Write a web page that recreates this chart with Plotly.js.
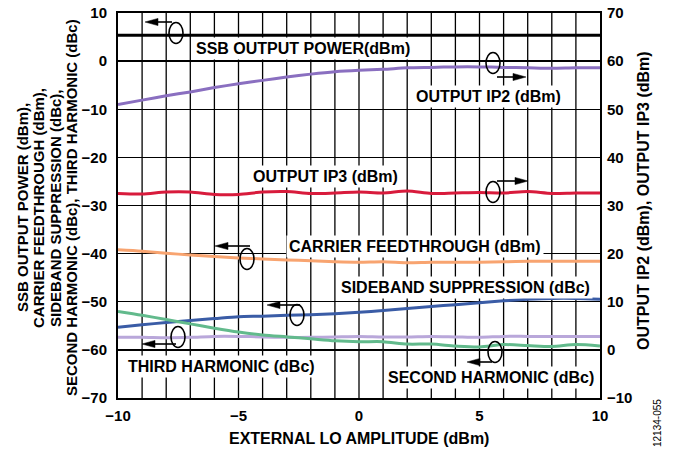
<!DOCTYPE html>
<html>
<head>
<meta charset="utf-8">
<script src="https://cdn.plot.ly/plotly-3.0.1.min.js"></script>
<style>html,body{margin:0;padding:0;background:#fff;}#chart{width:673px;height:452px;}</style>
</head>
<body>
<div id="chart"></div>
<script>
// ---- data ----
const loAmplitude = [-10,-9,-8,-7,-6,-5,-4,-3,-2,-1,0,1,2,3,4,5,6,7,8,9,10];
const ssbOutputPower = [5.4,5.4,5.4,5.4,5.4,5.4,5.4,5.4,5.4,5.4,5.4,5.4,5.4,5.4,5.4,5.4,5.4,5.4,5.4,5.4,5.4];
const outputIP2 = [51.0,51.9,52.8,53.6,54.5,55.3,56.0,56.7,57.3,57.8,58.1,58.3,58.6,58.7,58.8,58.8,58.7,58.6,58.5,58.6,58.6];
const outputIP3 = [32.5,32.4,32.8,32.8,32.3,32.3,32.8,32.9,32.5,32.6,32.8,32.6,33.0,32.5,32.6,32.7,32.6,32.9,32.5,32.6,32.6];
const carrierFeedthrough = [-39.2,-39.5,-39.9,-40.3,-40.6,-40.9,-41.1,-41.3,-41.5,-41.7,-41.8,-41.7,-41.9,-41.8,-41.8,-41.8,-41.7,-41.6,-41.6,-41.6,-41.6];
const sidebandSuppression = [-55.3,-54.8,-54.3,-53.9,-53.5,-53.1,-53.0,-52.8,-52.7,-52.5,-52.2,-51.8,-51.4,-51.0,-50.6,-50.2,-49.8,-49.5,-49.3,-49.3,-49.5];
const thirdHarmonic = [-57.4,-57.4,-57.5,-57.4,-57.2,-57.2,-57.3,-57.4,-57.4,-57.3,-57.2,-57.3,-57.3,-57.2,-57.3,-57.4,-57.2,-57.2,-57.2,-57.2,-57.2];
const secondHarmonic = [-52.0,-52.8,-53.7,-54.6,-55.5,-56.3,-56.9,-57.3,-57.7,-58.1,-58.3,-58.3,-58.8,-58.8,-59.2,-59.4,-58.9,-59.1,-59.3,-58.9,-59.2];
const xGridVals = [-9,-8,-7,-6,-5,-4,-3,-2,-1,0,1,2,3,4,5,6,7,8,9];
const xTickVals = [-10,-5,0,5,10];

// ---- layout constants ----
const W = 673, H = 452;
const M = {l:118, r:73, t:13, b:54};
const PL = M.l, PR = W - M.r, PT = M.t, PB = H - M.b;
const X0 = -10, X1 = 10, Y0 = -70, Y1 = 10;
const fx = px => X0 + (px - PL) / (PR - PL) * (X1 - X0);
const fy = py => Y1 - (py - PT) / (PB - PT) * (Y1 - Y0);
const px2paper = px => (px - PL) / (PR - PL);
const py2paper = py => (PB - py) / (PB - PT);

const FONT = 'Liberation Sans, Arial, Helvetica, sans-serif';

function trace(y, color, axis, width) {
  return {x: loAmplitude, y: y, type: 'scatter', mode: 'lines', yaxis: axis,
    line: {color: color, width: width || 3, shape: 'spline', smoothing: 0.8},
    hoverinfo: 'skip', showlegend: false};
}

const data = [
  trace(ssbOutputPower, '#000000', 'y', 3),
  trace(carrierFeedthrough, '#f8a470', 'y'),
  trace(sidebandSuppression, '#3a5ca6', 'y'),
  trace(thirdHarmonic, '#b9a7da', 'y'),
  trace(secondHarmonic, '#62ba8c', 'y'),
  trace(outputIP2, '#8a6fc0', 'y2'),
  trace(outputIP3, '#d81b3c', 'y2')
];

const shapes = [];
// vertical grid lines at every integer of LO amplitude
xGridVals.forEach(v => shapes.push({type:'line', xref:'x', yref:'paper', layer:'below',
  x0:v, x1:v, y0:0, y1:1, line:{color:'#000', width:1.3}}));

// ---- callouts (ellipse + arrow), pixel positions ----
const callouts = [
  {cx:176, cy:33, ay:22, tail:172, head:145},
  {cx:493, cy:63, ay:77, tail:497, head:526},
  {cx:493, cy:192, ay:181, tail:497, head:528},
  {cx:247, cy:259, ay:246, tail:250, head:215},
  {cx:297, cy:315, ay:305, tail:300, head:267},
  {cx:178, cy:337, ay:344, tail:176, head:142},
  {cx:495, cy:352, ay:362, tail:492, head:467}
];
callouts.forEach(c => {
  shapes.push({type:'circle', xref:'x', yref:'y', layer:'above',
    x0: fx(c.cx - 7), x1: fx(c.cx + 7), y0: fy(c.cy + 10.5), y1: fy(c.cy - 10.5),
    line:{color:'#000', width:1.6}, fillcolor:'rgba(0,0,0,0)'});
  const dir = c.head < c.tail ? -1 : 1;
  const base = c.head - dir * 13;
  shapes.push({type:'line', xref:'x', yref:'y', layer:'above',
    x0: fx(c.tail), x1: fx(base), y0: fy(c.ay), y1: fy(c.ay),
    line:{color:'#000', width:1.6}});
  shapes.push({type:'path', xref:'x', yref:'y', layer:'above',
    path: 'M' + fx(c.head) + ',' + fy(c.ay) + ' L' + fx(base) + ',' + fy(c.ay - 3.6) +
          ' L' + fx(base) + ',' + fy(c.ay + 3.6) + ' Z',
    fillcolor:'#000', line:{color:'#000', width:0.5}});
});

// ---- text labels ----
const labels = [
  {t:'SSB OUTPUT POWER(dBm)', px:303, py:48},
  {t:'OUTPUT IP2 (dBm)', px:488, py:96},
  {t:'OUTPUT IP3 (dBm)', px:325, py:176},
  {t:'CARRIER FEEDTHROUGH (dBm)', px:415, py:246},
  {t:'SIDEBAND SUPPRESSION (dBc)', px:465, py:287},
  {t:'THIRD HARMONIC (dBc)', px:221, py:366},
  {t:'SECOND HARMONIC (dBc)', px:491, py:377}
];
const annotations = labels.map(l => ({
  text: l.t, xref:'x', yref:'y', x: fx(l.px), y: fy(l.py), showarrow:false,
  xanchor:'center', yanchor:'middle', bgcolor:'#ffffff', borderpad:2,
  font:{family:FONT, size:16, color:'#000', weight:'bold'}
}));

const leftTitle = [
  {t:'SSB OUTPUT POWER (dBm),', px:22},
  {t:'CARRIER FEEDTHROUGH (dBm),', px:38},
  {t:'SIDEBAND SUPPRESSION (dBc),', px:55},
  {t:'SECOND HARMONIC (dBc), THIRD HARMONIC (dBc)', px:71}
];
leftTitle.forEach(l => annotations.push({
  text:l.t, xref:'paper', yref:'paper', x: px2paper(l.px), y: py2paper(208),
  xanchor:'center', yanchor:'middle', textangle:-90, showarrow:false,
  font:{family:FONT, size:15, color:'#000', weight:'bold'}
}));
annotations.push({
  text:'OUTPUT IP2 (dBm), OUTPUT IP3 (dBm)', xref:'paper', yref:'paper',
  x: px2paper(643), y: py2paper(201), xanchor:'center', yanchor:'middle',
  textangle:-90, showarrow:false,
  font:{family:FONT, size:16, color:'#000', weight:'bold'}
});
annotations.push({
  text:'EXTERNAL LO AMPLITUDE (dBm)', xref:'paper', yref:'paper',
  x: px2paper(359), y: py2paper(438), xanchor:'center', yanchor:'middle',
  showarrow:false, font:{family:FONT, size:16, color:'#000', weight:'bold'}
});
annotations.push({
  text:'12134-055', xref:'paper', yref:'paper',
  x: px2paper(658), y: py2paper(423), xanchor:'center', yanchor:'middle',
  textangle:-90, showarrow:false, font:{family:FONT, size:10, color:'#000'}
});

const tickFont = {family:FONT, size:15, color:'#000', weight:'bold'};
const layout = {
  width: W, height: H, margin: M,
  paper_bgcolor:'#fff', plot_bgcolor:'#fff', showlegend:false,
  xaxis: {range:[X0, X1], tickmode:'array', tickvals: xTickVals,
    ticks:'', showgrid:false,
    showline:true, linecolor:'#000', linewidth:2, mirror:true, zeroline:false,
    tickfont: tickFont, ticklabelstandoff: 3, fixedrange:true},
  yaxis: {range:[Y0, Y1], tickmode:'linear', tick0:-70, dtick:10,
    ticks:'', showgrid:true, gridcolor:'#000', gridwidth:1.3,
    showline:true, linecolor:'#000', linewidth:2, mirror:true, zeroline:false,
    tickfont: tickFont, ticklabelstandoff: 6, fixedrange:true},
  yaxis2: {range:[-10, 70], overlaying:'y', side:'right', tickmode:'linear', tick0:-10, dtick:10,
    ticks:'', showgrid:false, zeroline:false, showline:false,
    tickfont: tickFont, ticklabelstandoff: 6, fixedrange:true},
  shapes: shapes,
  annotations: annotations
};

Plotly.newPlot('chart', data, layout, {staticPlot:true, displayModeBar:false});
</script>
</body>
</html>
